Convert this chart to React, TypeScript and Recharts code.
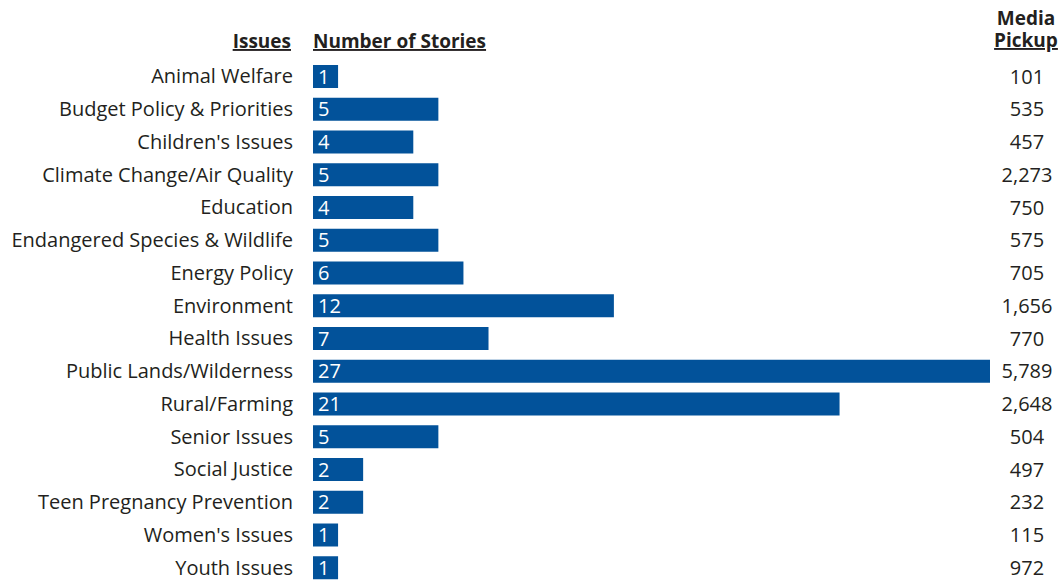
import React from 'react';
import { BarChart, Bar, XAxis, YAxis, LabelList } from 'recharts';

const issues = [
  'Animal Welfare',
  'Budget Policy & Priorities',
  "Children's Issues",
  'Climate Change/Air Quality',
  'Education',
  'Endangered Species & Wildlife',
  'Energy Policy',
  'Environment',
  'Health Issues',
  'Public Lands/Wilderness',
  'Rural/Farming',
  'Senior Issues',
  'Social Justice',
  'Teen Pregnancy Prevention',
  "Women's Issues",
  'Youth Issues',
];
const stories = [1, 5, 4, 5, 4, 5, 6, 12, 7, 27, 21, 5, 2, 2, 1, 1];
const pickup = ['101', '535', '457', '2,273', '750', '575', '705', '1,656', '770', '5,789', '2,648', '504', '497', '232', '115', '972'];

const data = issues.map((name, i) => ({ name, stories: stories[i], pickup: pickup[i] }));
const pickupByName: Record<string, string> = {};
issues.forEach((n, i) => { pickupByName[n] = pickup[i]; });

const FONT = '"Open Sans", "Noto Sans", sans-serif';
const TEXT = '#231f20';
const BAR = '#02529a';

const PickupTick = (props: any) => {
  const { x, y, payload } = props;
  return (
    <text x={x + 29} y={y} dy="0.36em" textAnchor="middle" fill={TEXT} fontSize={20} fontFamily={FONT}>
      {pickupByName[payload.value]}
    </text>
  );
};

export default function App() {
  return (
    <div style={{ position: 'absolute', left: 0, top: 0, width: 1061, height: 582, overflow: 'hidden', background: '#fff' }}>
      <BarChart
        width={1061}
        height={600}
        data={data}
        layout="vertical"
        margin={{ top: 60, right: 0, bottom: 16, left: 0 }}
      >
        <XAxis type="number" domain={[0, 27]} hide />
        <YAxis
          yAxisId="left"
          type="category"
          dataKey="name"
          width={313}
          axisLine={false}
          tickLine={false}
          tickMargin={14}
          interval={0}
          tick={{ fill: TEXT, fontSize: 20, fontFamily: FONT }}
        />
        <YAxis
          yAxisId="right"
          orientation="right"
          type="category"
          dataKey="name"
          width={71}
          axisLine={false}
          tickLine={false}
          interval={0}
          tick={<PickupTick />}
        />
        <Bar yAxisId="left" dataKey="stories" fill={BAR} barSize={23} isAnimationActive={false}>
          <LabelList dataKey="stories" position="insideLeft" offset={5} fill="#ffffff" fontSize={20} fontFamily={FONT} />
        </Bar>
      </BarChart>
      <svg width={1061} height={60} style={{ position: 'absolute', left: 0, top: 0 }}>
        <text x={291} y={48} textAnchor="end" fontSize={19} fontWeight={700} fill={TEXT} fontFamily={FONT} textDecoration="underline">
          Issues
        </text>
        <text x={313} y={48} textAnchor="start" fontSize={19} fontWeight={700} fill={TEXT} fontFamily={FONT} textDecoration="underline">
          Number of Stories
        </text>
        <text x={1026} y={25} textAnchor="middle" fontSize={19} fontWeight={700} fill={TEXT} fontFamily={FONT}>
          Media
        </text>
        <text x={1026} y={47} textAnchor="middle" fontSize={19} fontWeight={700} fill={TEXT} fontFamily={FONT} textDecoration="underline">
          Pickup
        </text>
      </svg>
    </div>
  );
}
